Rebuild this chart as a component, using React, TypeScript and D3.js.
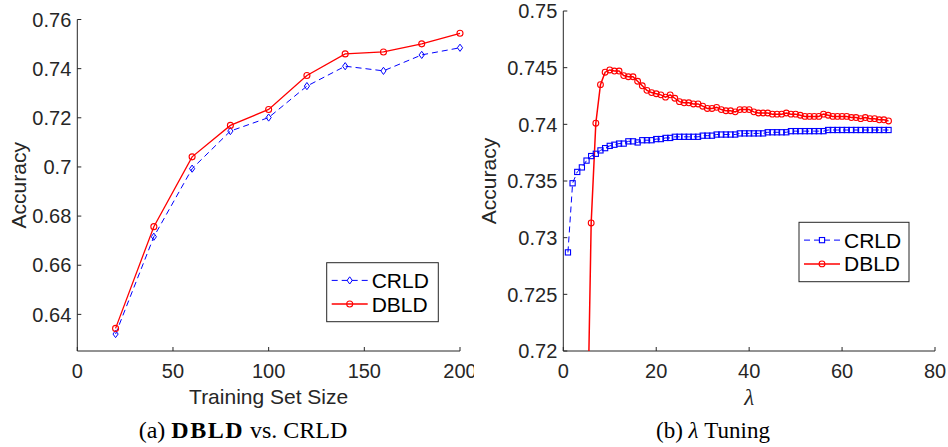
import React, { useEffect, useRef } from 'react';
import * as d3 from 'd3';

// (a) accuracy against training set size
const trainSizes = [20, 40, 60, 80, 100, 120, 140, 160, 180, 200];
const crldBySize = [0.632, 0.6716, 0.6993, 0.7146, 0.7201, 0.7329, 0.741, 0.7391, 0.7456, 0.7485];
const dbldBySize = [0.6343, 0.6757, 0.7041, 0.7169, 0.7234, 0.7372, 0.746, 0.7468, 0.7501, 0.7544];
const sizeTicks = [0, 50, 100, 150, 200];
const sizeAccTicks = [0.64, 0.66, 0.68, 0.7, 0.72, 0.74, 0.76];

// (b) accuracy against lambda (CRLD from lambda = 1, DBLD from lambda = 5)
const crldLambdaStart = 1;
const crldByLambda = [
  0.7287, 0.7348, 0.7358, 0.7362, 0.7368, 0.7372, 0.7374, 0.7377, 0.7379, 0.7381,
  0.7382, 0.7383, 0.7383, 0.7385, 0.7385, 0.7384, 0.7386, 0.7386, 0.7386, 0.7387,
  0.7387, 0.7388, 0.7388, 0.7389, 0.7389, 0.7389, 0.7389, 0.7389, 0.7389, 0.739,
  0.739, 0.739, 0.7391, 0.7391, 0.7391, 0.7391, 0.7391, 0.7392, 0.7392, 0.7392,
  0.7392, 0.7392, 0.7392, 0.7393, 0.7393, 0.7393, 0.7393, 0.7393, 0.7394, 0.7394,
  0.7394, 0.7394, 0.7394, 0.7394, 0.7394, 0.7394, 0.7395, 0.7395, 0.7395, 0.7395,
  0.7395, 0.7395, 0.7395, 0.7395, 0.7395, 0.7395, 0.7395, 0.7395, 0.7395, 0.7395
];
const dbldLambdaStart = 5;
const dbldByLambda = [
  0.708, 0.7313, 0.7401, 0.7435, 0.7446, 0.7448, 0.7447, 0.7447, 0.7443, 0.7442,
  0.7442, 0.7438, 0.7434, 0.743, 0.7428, 0.7427, 0.7426, 0.7424, 0.7426, 0.7423,
  0.742, 0.7419, 0.7419, 0.7418, 0.7418, 0.7416, 0.7414, 0.7414, 0.7415, 0.7413,
  0.7412, 0.7412, 0.7411, 0.7413, 0.7413, 0.7413, 0.7411, 0.741, 0.741, 0.741,
  0.7409, 0.7409, 0.7409, 0.741, 0.7409, 0.7409, 0.7408, 0.7407, 0.7407, 0.7407,
  0.7407, 0.7409, 0.7408, 0.7407, 0.7407, 0.7407, 0.7407, 0.7406, 0.7406, 0.7405,
  0.7406, 0.7405, 0.7405, 0.7404, 0.7404, 0.7403
];
const lambdaTicks = [0, 20, 40, 60, 80];
const lambdaAccTicks = [0.72, 0.725, 0.73, 0.735, 0.74, 0.745, 0.75];

const AXIS = '#262626';
const BLUE = '#0000ff';
const RED = '#ff0000';
const SANS = 'Arial, "Liberation Sans", Helvetica, sans-serif';
const SERIF = '"Times New Roman", "Liberation Serif", serif';

type Pt = [number, number];

const App: React.FC = () => {
  const svgRef = useRef<SVGSVGElement>(null);

  useEffect(() => {
    if (!svgRef.current) return;
    const svg = d3.select(svgRef.current);
    svg.selectAll('*').remove();

    const diamond = 'M0,-3.6L2.6,0L0,3.6L-2.6,0Z';

    const drawPanel = (opts: {
      id: string;
      offset: number;
      xRange: [number, number];
      yRange: [number, number];
      xDomain: [number, number];
      yDomain: [number, number];
      xTicks: number[];
      yTicks: number[];
      yFmt: (v: number) => string;
      crld: Pt[];
      dbld: Pt[];
      crldMarker: 'diamond' | 'square';
      circleR: number;
      redWidth: number;
      yLabelX: number;
      legend: { x: number; y: number; w: number; h: number };
    }) => {
      const clip = svg.append('clipPath').attr('id', `panel-${opts.id}`);
      clip.append('rect').attr('x', opts.offset).attr('y', 0).attr('width', 474).attr('height', 447);
      const g = svg.append('g').attr('clip-path', `url(#panel-${opts.id})`);

      const x = d3.scaleLinear().domain(opts.xDomain).range(opts.xRange);
      const y = d3.scaleLinear().domain(opts.yDomain).range(opts.yRange);
      const [x0, x1] = opts.xRange;
      const [yb, yt] = opts.yRange;

      // axes lines
      g.append('path')
        .attr('d', `M${x0},${yt}V${yb}H${x1}`)
        .attr('fill', 'none')
        .attr('stroke', AXIS)
        .attr('stroke-width', 1);

      // inward ticks
      const tickLen = 4;
      g.append('g')
        .selectAll('line')
        .data(opts.xTicks)
        .join('line')
        .attr('x1', d => x(d))
        .attr('x2', d => x(d))
        .attr('y1', yb)
        .attr('y2', yb - tickLen)
        .attr('stroke', AXIS);
      g.append('g')
        .selectAll('line')
        .data(opts.yTicks)
        .join('line')
        .attr('x1', x0)
        .attr('x2', x0 + tickLen)
        .attr('y1', d => y(d))
        .attr('y2', d => y(d))
        .attr('stroke', AXIS);

      // tick labels
      g.append('g')
        .selectAll('text')
        .data(opts.xTicks)
        .join('text')
        .attr('x', d => x(d))
        .attr('y', yb + 27)
        .attr('text-anchor', 'middle')
        .style('font-family', SANS)
        .style('font-size', '20px')
        .style('fill', AXIS)
        .text(d => String(d));
      g.append('g')
        .selectAll('text')
        .data(opts.yTicks)
        .join('text')
        .attr('x', x0 - 6)
        .attr('y', d => y(d))
        .attr('dy', '0.36em')
        .attr('text-anchor', 'end')
        .style('font-family', SANS)
        .style('font-size', '20px')
        .style('fill', AXIS)
        .text(d => opts.yFmt(d));

      // y label
      g.append('text')
        .attr('transform', `translate(${opts.yLabelX},${(yb + yt) / 2}) rotate(-90)`)
        .attr('text-anchor', 'middle')
        .style('font-family', SANS)
        .style('font-size', '21px')
        .style('fill', AXIS)
        .text('Accuracy');

      // plot area clip for data
      const dclip = svg.append('clipPath').attr('id', `data-${opts.id}`);
      dclip.append('rect').attr('x', x0).attr('y', yt - 10).attr('width', x1 - x0 + 10).attr('height', yb - yt + 10);
      const plot = g.append('g').attr('clip-path', `url(#data-${opts.id})`);

      const line = d3.line<Pt>().x(d => x(d[0])).y(d => y(d[1]));

      plot.append('path')
        .datum(opts.crld)
        .attr('d', line)
        .attr('fill', 'none')
        .attr('stroke', BLUE)
        .attr('stroke-width', 1)
        .attr('stroke-dasharray', '6,4');
      plot.append('path')
        .datum(opts.dbld)
        .attr('d', line)
        .attr('fill', 'none')
        .attr('stroke', RED)
        .attr('stroke-width', opts.redWidth);

      const drawCrldMarker = (sel: d3.Selection<any, any, any, any>) => {
        if (opts.crldMarker === 'diamond') {
          sel.append('path').attr('d', diamond).attr('fill', 'none').attr('stroke', BLUE).attr('stroke-width', 1);
        } else {
          sel.append('rect')
            .attr('x', -2.6).attr('y', -2.6).attr('width', 5.2).attr('height', 5.2)
            .attr('fill', 'none').attr('stroke', BLUE).attr('stroke-width', 1.1);
        }
      };

      plot.append('g')
        .selectAll('g')
        .data(opts.crld)
        .join('g')
        .attr('transform', d => `translate(${x(d[0])},${y(d[1])})`)
        .call(drawCrldMarker);

      plot.append('g')
        .selectAll('circle')
        .data(opts.dbld)
        .join('circle')
        .attr('cx', d => x(d[0]))
        .attr('cy', d => y(d[1]))
        .attr('r', opts.circleR)
        .attr('fill', 'none')
        .attr('stroke', RED)
        .attr('stroke-width', 1.1);

      // legend
      const lg = opts.legend;
      const leg = g.append('g').attr('transform', `translate(${lg.x},${lg.y})`);
      leg.append('rect')
        .attr('width', lg.w)
        .attr('height', lg.h)
        .attr('fill', '#fff')
        .attr('stroke', AXIS)
        .attr('stroke-width', 1);
      const rowY = [lg.h * 0.3, lg.h * 0.7];
      const entries = [
        { name: 'CRLD', color: BLUE, dash: '6,4', rowY: rowY[0] },
        { name: 'DBLD', color: RED, dash: null, rowY: rowY[1] }
      ];
      entries.forEach((e, i) => {
        leg.append('line')
          .attr('x1', 5)
          .attr('x2', 41)
          .attr('y1', e.rowY)
          .attr('y2', e.rowY)
          .attr('stroke', e.color)
          .attr('stroke-width', i === 0 ? 1 : opts.redWidth)
          .attr('stroke-dasharray', e.dash);
        const m = leg.append('g').attr('transform', `translate(23,${e.rowY})`);
        if (i === 0) drawCrldMarker(m);
        else m.append('circle').attr('r', opts.circleR).attr('fill', 'none').attr('stroke', RED).attr('stroke-width', 1.1);
        leg.append('text')
          .attr('x', 45)
          .attr('y', e.rowY)
          .attr('dy', '0.36em')
          .style('font-family', SANS)
          .style('font-size', '21px')
          .style('fill', '#000')
          .text(e.name);
      });

      return { x, y };
    };

    // ---------- panel (a)
    const a = drawPanel({
      id: 'a',
      offset: 0,
      xRange: [77.3, 460],
      yRange: [351, 19.5],
      xDomain: [0, 200],
      yDomain: [0.6251, 0.76],
      xTicks: sizeTicks,
      yTicks: sizeAccTicks,
      yFmt: d => String(+d.toFixed(2)),
      crld: trainSizes.map((s, i) => [s, crldBySize[i]] as Pt),
      dbld: trainSizes.map((s, i) => [s, dbldBySize[i]] as Pt),
      crldMarker: 'diamond',
      circleR: 3,
      redWidth: 1.3,
      yLabelX: 26,
      legend: { x: 326.7, y: 262.7, w: 111.6, h: 59 }
    });

    svg.append('text')
      .attr('x', (a.x(0) + a.x(200)) / 2)
      .attr('y', 404)
      .attr('text-anchor', 'middle')
      .style('font-family', SANS)
      .style('font-size', '21px')
      .style('fill', AXIS)
      .text('Training Set Size');

    const capA = svg.append('text')
      .attr('x', 243)
      .attr('y', 438)
      .attr('text-anchor', 'middle')
      .style('font-family', SERIF)
      .style('font-size', '24px')
      .style('fill', '#000');
    capA.append('tspan').text('(a) ');
    capA.append('tspan').style('font-weight', 'bold').style('letter-spacing', '1.5px').text('DBLD');
    capA.append('tspan').text(' vs. CRLD');

    // ---------- panel (b)
    const b = drawPanel({
      id: 'b',
      offset: 474,
      xRange: [563.3, 935],
      yRange: [351, 11],
      xDomain: [0, 80],
      yDomain: [0.72, 0.75],
      xTicks: lambdaTicks,
      yTicks: lambdaAccTicks,
      yFmt: d => String(+d.toFixed(3)),
      crld: crldByLambda.map((v, i) => [crldLambdaStart + i, v] as Pt),
      dbld: dbldByLambda.map((v, i) => [dbldLambdaStart + i, v] as Pt),
      crldMarker: 'square',
      circleR: 2.9,
      redWidth: 1.5,
      yLabelX: 496,
      legend: { x: 799, y: 222.3, w: 110, h: 59.4 }
    });

    svg.append('text')
      .attr('x', (b.x(0) + b.x(80)) / 2)
      .attr('y', 405)
      .attr('text-anchor', 'middle')
      .style('font-family', SERIF)
      .style('font-style', 'italic')
      .style('font-size', '23px')
      .style('fill', AXIS)
      .text('λ');

    const capB = svg.append('text')
      .attr('x', 713)
      .attr('y', 438)
      .attr('text-anchor', 'middle')
      .style('font-family', SERIF)
      .style('font-size', '23px')
      .style('fill', '#000');
    capB.append('tspan').text('(b) ');
    capB.append('tspan').style('font-style', 'italic').text('λ');
    capB.append('tspan').text(' Tuning');
  }, []);

  return (
    <svg
      ref={svgRef}
      width={948}
      height={447}
      style={{ position: 'absolute', left: 0, top: 0, background: '#ffffff', display: 'block' }}
    />
  );
};

export default App;
